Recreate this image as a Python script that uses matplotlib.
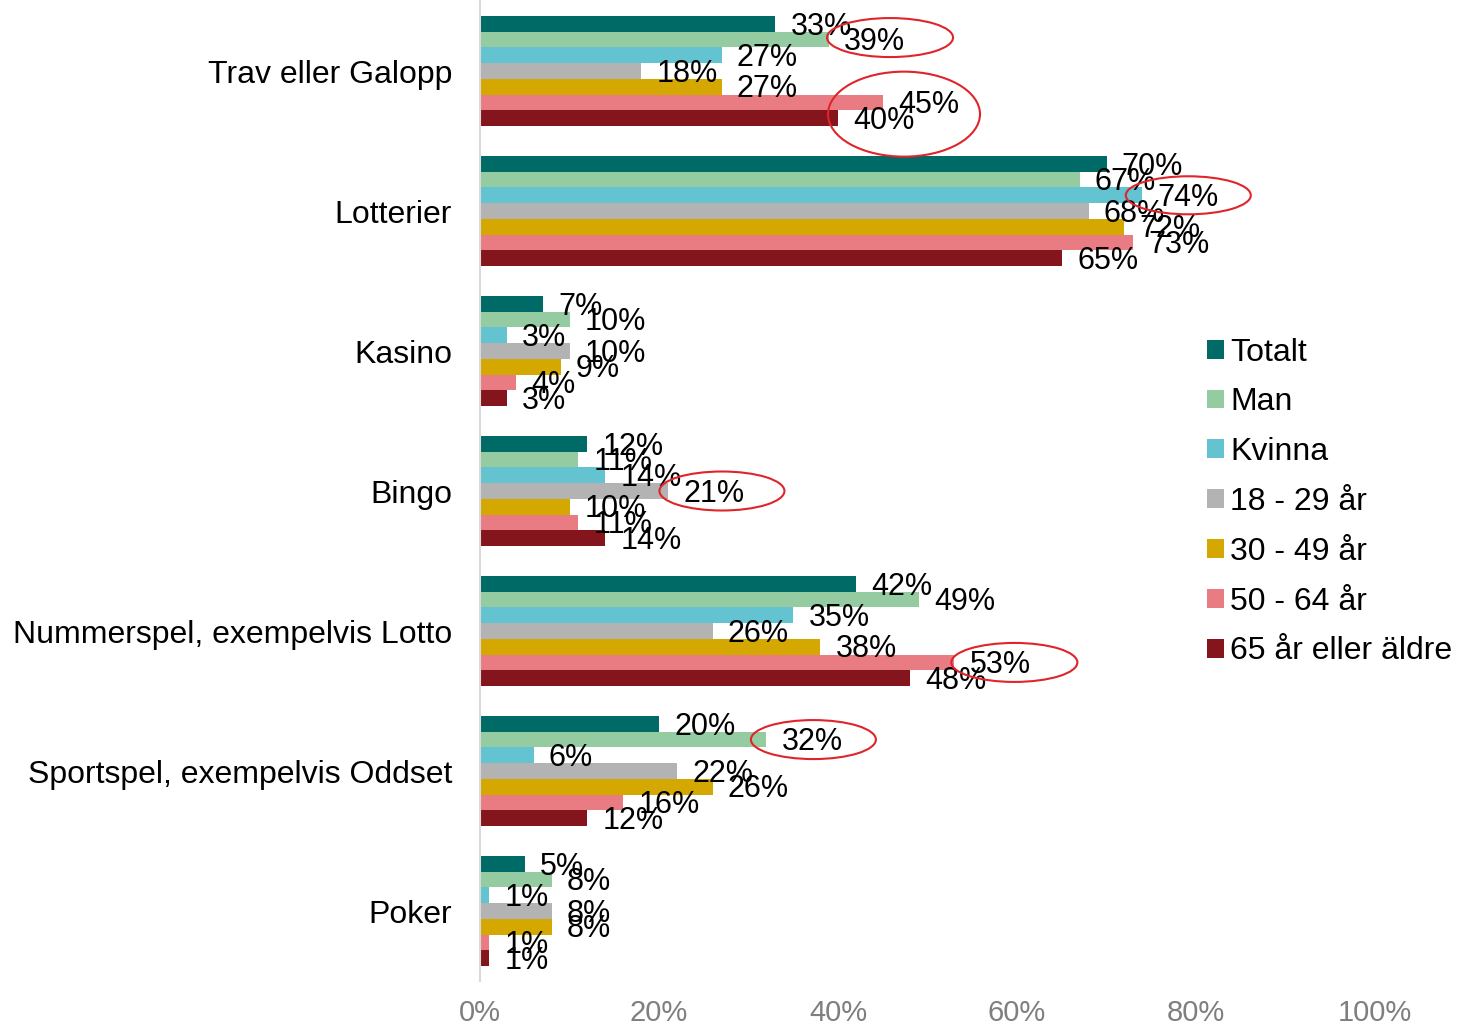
import matplotlib
matplotlib.use("Agg")
import matplotlib.pyplot as plt
from matplotlib.patches import Patch, Ellipse

plt.rcParams['font.family'] = ['Liberation Sans', 'DejaVu Sans']

categories = ["Trav eller Galopp", "Lotterier", "Kasino", "Bingo",
              "Nummerspel, exempelvis Lotto", "Sportspel, exempelvis Oddset", "Poker"]
series_names = ["Totalt", "Man", "Kvinna", "18 - 29 år", "30 - 49 år", "50 - 64 år", "65 år eller äldre"]
series_colors = ["#006A66", "#95CBA0", "#63C3D1", "#B3B3B3", "#D4A800", "#E97C83", "#85151D"]

totalt = [33, 70, 7, 12, 42, 20, 5]
man = [39, 67, 10, 11, 49, 32, 8]
kvinna = [27, 74, 3, 14, 35, 6, 1]
age_18_29 = [18, 68, 10, 21, 26, 22, 8]
age_30_49 = [27, 72, 9, 10, 38, 26, 8]
age_50_64 = [45, 73, 4, 11, 53, 16, 1]
age_65 = [40, 65, 3, 14, 48, 12, 1]
series_values = [totalt, man, kvinna, age_18_29, age_30_49, age_50_64, age_65]

xticks = [0, 20, 40, 60, 80, 100]
xtick_labels = ["0%", "20%", "40%", "60%", "80%", "100%"]

# highlighted labels: (category index, series index, dx px, dy px, width px, height px)
highlights = [(0, 1, 14, -2, 126, 39),
              (0, 6, 19, -4, 152, 85),
              (1, 2, -1, 0, 125, 38),
              (3, 3, 7, 0, 125, 39),
              (4, 5, 13, 0, 126, 39),
              (5, 1, 0, 0, 125, 39)]

W, H = 1459, 1025
fig = plt.figure(figsize=(W / 100, H / 100), dpi=100)
ax_left, ax_right = 480, 1375
ax_top, ax_bot = 1, 981
ax = fig.add_axes([ax_left / W, 1 - ax_bot / H, (ax_right - ax_left) / W, (ax_bot - ax_top) / H])

n_ser = len(series_values)
bh = (110 / 140) / n_ser
px_per_x = (ax_right - ax_left) / 100.0
px_per_y = (ax_bot - ax_top) / len(categories)

for i, (vals, col) in enumerate(zip(series_values, series_colors)):
    ys = [c + (i - (n_ser - 1) / 2) * bh for c in range(len(categories))]
    ax.barh(ys, vals, height=bh, color=col, edgecolor='none', label=series_names[i], zorder=2)
    for v, y in zip(vals, ys):
        ax.annotate(f"{v}%", xy=(v, y), xytext=(11, -2), textcoords='offset points',
                    ha='left', va='center', fontsize=22, color='black', zorder=3)

for (ci, si, dx, dy, w, h) in highlights:
    v = series_values[si][ci]
    ypos = ci + (si - (n_ser - 1) / 2) * bh
    cx = v + (16 + 31 + dx) / px_per_x
    cy = ypos + dy / px_per_y
    e = Ellipse((cx, cy), w / px_per_x, h / px_per_y, fill=False, edgecolor='#E0242B', linewidth=1.5,
                zorder=4, clip_on=False)
    ax.add_patch(e)

ax.set_xlim(0, 100)
ax.set_ylim(len(categories) - 0.5, -0.5)
ax.set_yticks(range(len(categories)))
ax.set_yticklabels(categories, fontsize=23, color='black')
ax.set_xticks(xticks)
ax.set_xticklabels(xtick_labels, fontsize=21, color='#7F7F7F')
ax.tick_params(axis='y', length=0, pad=20)
ax.tick_params(axis='x', length=0, pad=13)
for s in ['top', 'right', 'bottom']:
    ax.spines[s].set_visible(False)
ax.spines['left'].set_color('#D9D9D9')
ax.spines['left'].set_linewidth(1.5)

handles = [Patch(facecolor=c, edgecolor='none') for c in series_colors]
fig.legend(handles, series_names, loc='center left', bbox_to_anchor=(1207 / W, 1 - 502 / H),
           frameon=False, fontsize=23, handlelength=0.53, handleheight=0.53, handletextpad=0.2,
           labelspacing=0.62, borderpad=0, borderaxespad=0)

fig.savefig("out.png", dpi=100)
